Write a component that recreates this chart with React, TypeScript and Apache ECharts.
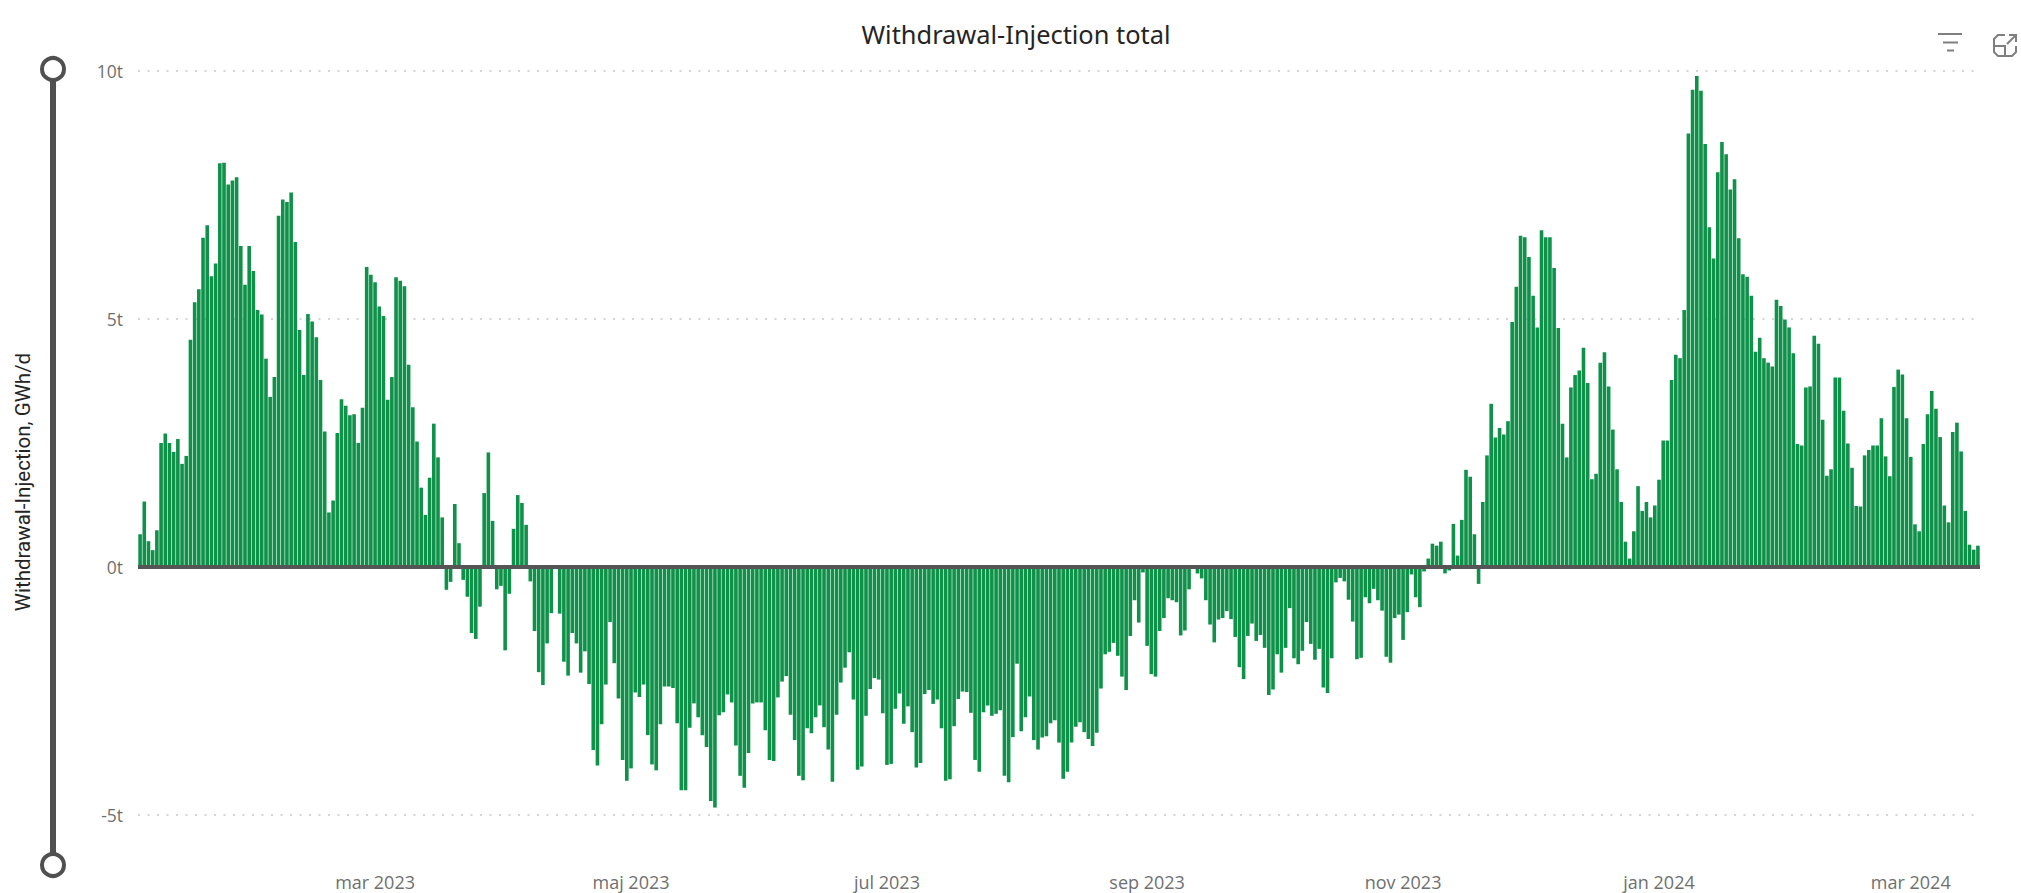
import React, { useEffect, useRef } from "react";
import * as echarts from "echarts";

const FIRST_DAY = "2023-01-04";
const tickLabels: Record<string, string> = {
  "2023-03-01": "mar 2023",
  "2023-05-01": "maj 2023",
  "2023-07-01": "jul 2023",
  "2023-09-01": "sep 2023",
  "2023-11-01": "nov 2023",
  "2024-01-01": "jan 2024",
  "2024-03-01": "mar 2024",
};
const yTicks = { min: -5, max: 10, interval: 5 };

const winter2023 = [
  0.66, 1.32, 0.52, 0.34, 0.74, 2.5, 2.69, 2.5, 2.32, 2.58, 2.08, 2.24, 4.58, 5.34, 5.6, 6.64, 6.89, 5.86, 6.12, 8.14,
  8.15, 7.71, 7.79, 7.86, 6.47, 5.69, 6.47, 5.97, 5.18, 5.09, 4.2, 3.43, 3.83, 7.08, 7.41, 7.36, 7.55, 6.55, 4.78, 3.87,
  5.1, 4.95, 4.63, 3.77, 2.73, 1.1, 1.34, 2.7, 3.38, 3.25, 3.06, 3.08, 2.5, 3.21, 6.05, 5.89, 5.74, 5.25, 5.06, 3.37,
  3.83, 5.84, 5.77, 5.66, 4.08, 3.22, 2.53, 1.6, 1.05, 1.8, 2.89, 2.21, 1.0, -0.46, -0.3, 1.27, 0.48, -0.26, -0.6, -1.33,
  -1.45, -0.8, 1.49, 2.31, 0.93, -0.45, -0.38, -1.68, -0.54, 0.77, 1.45, 1.29, 0.85, -0.29, -1.29,
];
const summer2023 = [
  -2.12, -2.38, -1.54, -0.93, 0.02, -0.94, -1.91, -2.19, -1.33, -1.54, -2.13, -1.7, -2.36, -3.69, -4.0, -3.17, -2.37,
  -1.11, -1.94, -2.65, -3.89, -4.31, -4.06, -2.53, -2.62, -2.37, -3.39, -3.98, -4.1, -3.17, -2.41, -2.41, -2.44, -3.15,
  -4.5, -4.5, -3.24, -2.75, -3.03, -3.39, -3.63, -4.72, -4.85, -2.99, -2.93, -2.57, -2.73, -3.6, -4.21, -4.45, -3.75,
  -2.75, -2.73, -2.73, -3.29, -3.89, -3.91, -2.63, -2.31, -2.2, -2.98, -3.49, -4.21, -4.3, -3.25, -3.35, -3.03, -2.79,
  -3.23, -3.68, -4.33, -2.98, -2.33, -2.03, -1.72, -2.67, -4.09, -4.02, -3.0, -2.46, -2.24, -2.27, -2.95, -3.99, -3.97,
  -2.86, -2.55, -3.16, -2.81, -3.33, -4.04, -3.95, -2.56, -2.48, -2.76, -2.67, -3.25, -4.31, -4.28, -3.21, -2.66, -2.51,
  -2.52, -2.94, -3.89, -4.13, -2.93, -2.79, -3.0, -2.96, -2.89, -4.21, -4.34, -3.43, -1.95, -3.31, -3.03, -2.61, -3.49,
  -3.68,
];
const autumn2023 = [
  -3.44, -3.41, -3.15, -3.09, -3.54, -4.27, -4.13, -3.54, -3.22, -3.13, -3.33, -3.47, -3.61, -3.34, -2.45, -1.76, -1.71,
  -1.53, -1.79, -2.21, -2.48, -1.39, -0.67, -1.12, -0.11, -1.59, -2.16, -2.21, -1.29, -1.03, -0.63, -0.67, -0.71, -1.38,
  -1.28, -0.45, -0.03, -0.13, -0.23, -0.67, -1.16, -1.52, -1.06, -1.03, -0.89, -1.05, -1.41, -2.02, -2.26, -1.39, -1.14,
  -1.49, -1.37, -1.63, -2.58, -2.47, -1.76, -2.13, -1.63, -0.83, -1.84, -1.96, -1.69, -1.11, -1.55, -1.87, -1.65, -2.43,
  -2.54, -1.84, -0.31, -0.22, -0.29, -0.66, -1.1, -1.86, -1.83, -0.61, -0.73, -0.44, -0.67, -0.88, -1.81, -1.93, -1.03,
  -0.96, -1.47, -0.91, -0.15, -0.61, -0.81, -0.09, 0.17, 0.47, 0.43, 0.51, -0.13, -0.07, 0.87, 0.23, 0.95, 1.96, 1.82,
  0.66, -0.34,
];
const winter2024 = [
  1.31, 2.25, 3.29, 2.61, 2.8, 2.67, 2.94, 4.94, 5.65, 6.68, 6.65, 6.25, 5.47, 4.83, 6.79, 6.65, 6.65, 6.03, 4.82, 2.89,
  2.21, 3.62, 3.87, 3.96, 4.42, 3.71, 1.77, 1.88, 4.12, 4.33, 3.64, 2.77, 1.97, 1.31, 0.51, 0.17, 0.72, 1.63, 1.13, 1.31,
  1.0, 1.24, 1.76, 2.55, 2.55, 3.77, 4.28, 4.21, 5.18, 8.74, 9.62, 9.9, 9.6, 8.53, 6.85, 6.22, 7.96, 8.57, 8.32, 7.61,
  7.82, 6.63, 5.9, 5.85, 5.47, 4.34, 4.62, 4.21, 4.12, 4.04, 5.39, 5.26, 4.99, 4.83, 4.31, 2.48, 2.45, 3.62, 3.64, 4.66,
  4.5, 2.97, 1.84, 1.97, 3.82, 3.82, 3.15, 2.49, 2.0, 1.23, 1.22, 2.25, 2.36, 2.45, 2.45, 3.0, 2.23, 1.83, 3.63, 3.98,
  3.88, 3.0, 2.22, 0.86, 0.72, 2.48, 3.08, 3.55, 3.19, 2.62, 1.24, 0.9, 2.72, 2.91, 2.33, 1.13, 0.45, 0.35, 0.43,
];

const values = [...winter2023, ...summer2023, ...autumn2023, ...winter2024];
const days = values.map((_, i) => {
  const d = new Date(FIRST_DAY + "T00:00:00Z");
  d.setUTCDate(d.getUTCDate() + i);
  return d.toISOString().slice(0, 10);
});

const TITLE_FONT = "'Noto Sans', sans-serif";
const AXIS_TITLE_FONT = "Roboto, sans-serif";
const LABEL_FONT = "'Open Sans', sans-serif";
const ICON = "#7f7f7f";
const SLIDER = "#505050";

export default function App() {
  const ref = useRef<HTMLDivElement>(null);
  useEffect(() => {
    document.body.style.margin = "0";
    const chart = echarts.init(ref.current!, undefined, { renderer: "svg" });
    const iconLine = (points: number[][], w = 2) => ({
      type: "polyline",
      shape: { points },
      style: { stroke: ICON, lineWidth: w, fill: "none" },
    });
    chart.setOption({
      animation: false,
      backgroundColor: "#ffffff",
      grid: { left: 138, right: 41, top: 71, bottom: 78, containLabel: false },
      xAxis: {
        type: "category",
        data: days,
        axisLine: { show: false, onZero: false },
        axisTick: { show: false },
        splitLine: { show: false },
        axisLabel: {
          interval: (_: number, v: string) => v in tickLabels,
          formatter: (v: string) => tickLabels[v] ?? "",
          margin: 58,
          fontFamily: LABEL_FONT,
          fontSize: 18,
          color: "#6f6f6f",
        },
      },
      yAxis: {
        type: "value",
        min: yTicks.min,
        max: yTicks.max,
        interval: yTicks.interval,
        axisLine: { show: false },
        axisTick: { show: false },
        splitLine: { lineStyle: { color: "#d4d4d4", width: 2, type: [2, 7.5] } },
        axisLabel: {
          formatter: (v: number) => `${v}t`,
          margin: 15,
          fontFamily: LABEL_FONT,
          fontSize: 17.5,
          color: "#6f6f6f",
        },
      },
      series: [
        {
          type: "bar",
          data: values,
          barWidth: 3.6,
          itemStyle: { color: "#0e9148" },
          markLine: {
            silent: true,
            symbol: "none",
            label: { show: false },
            lineStyle: { color: "#555555", width: 4, type: "solid" },
            data: [{ yAxis: 0 }],
          },
        },
      ],
      graphic: [
        {
          type: "text",
          x: 1016,
          y: 34,
          style: {
            text: "Withdrawal-Injection total",
            font: `400 25.4px ${TITLE_FONT}`,
            fill: "#252423",
            align: "center",
            verticalAlign: "middle",
          },
        },
        {
          type: "text",
          x: 23,
          y: 482,
          rotation: Math.PI / 2,
          style: {
            text: "Withdrawal-Injection, GWh/d",
            font: `400 20.5px ${AXIS_TITLE_FONT}`,
            fill: "#252423",
            align: "center",
            verticalAlign: "middle",
          },
        },
        {
          type: "line",
          shape: { x1: 53, y1: 69, x2: 53, y2: 865 },
          style: { stroke: SLIDER, lineWidth: 6 },
        },
        {
          type: "circle",
          shape: { cx: 53, cy: 69, r: 11 },
          style: { fill: "#ffffff", stroke: SLIDER, lineWidth: 4 },
        },
        {
          type: "circle",
          shape: { cx: 53, cy: 865, r: 11 },
          style: { fill: "#ffffff", stroke: SLIDER, lineWidth: 4 },
        },
        iconLine([[1938, 34], [1962, 34]]),
        iconLine([[1943, 42.5], [1958, 42.5]]),
        iconLine([[1947, 50.5], [1954, 50.5]]),
        iconLine([[2005, 35], [1998, 35], [1994, 39], [1994, 52], [1998, 56], [2012, 56], [2016, 52], [2016, 46]]),
        iconLine([[1994, 46], [2005, 46], [2005, 56]]),
        iconLine([[2007, 44], [2016, 35]]),
        iconLine([[2009, 35], [2016, 35], [2016, 42]]),
      ],
    });
    return () => chart.dispose();
  }, []);
  return <div ref={ref} style={{ position: "absolute", left: 0, top: 0, width: 2021, height: 893 }} />;
}
